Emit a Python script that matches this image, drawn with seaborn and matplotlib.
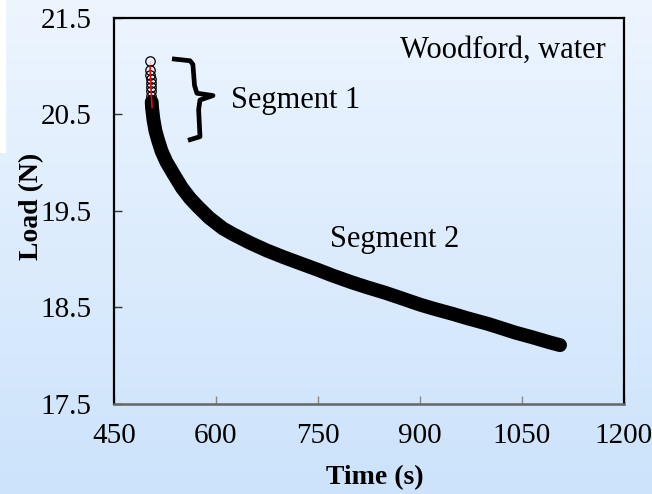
import numpy as np
import pandas as pd
import matplotlib
matplotlib.use("Agg")
import matplotlib.pyplot as plt
import seaborn as sns

# ---- data ----
seg1_time = [503, 503, 503.5, 504, 504, 504.5, 505, 505, 505.5, 506]
seg1_load = [21.05, 20.96, 20.91, 20.87, 20.83, 20.78, 20.74, 20.69, 20.63, 20.57]

curve_time = [505.5, 506, 508, 511, 515, 520, 527, 537, 550, 562, 574, 590, 610,
              625, 650, 675, 700, 723, 750, 772, 800, 822, 850, 871, 900, 919,
              950, 969, 1000, 1018, 1040, 1066, 1090, 1106]
curve_load = [20.63, 20.57, 20.45, 20.33, 20.23, 20.12, 20.01, 19.89, 19.74, 19.63,
              19.54, 19.43, 19.32, 19.26, 19.17, 19.09, 19.02, 18.96, 18.89, 18.83,
              18.76, 18.71, 18.65, 18.60, 18.53, 18.49, 18.43, 18.39, 18.33, 18.29,
              18.24, 18.19, 18.14, 18.11]

x_ticks = [450, 600, 750, 900, 1050, 1200]
y_ticks = [17.5, 18.5, 19.5, 20.5, 21.5]

# brace annotation (data coords)
brace_t = [535.3, 561.8, 566.0, 568.5, 572.0, 595.6, 576.5, 574.5, 576.5, 558.8]
brace_l = [21.077, 21.057, 21.02, 20.80, 20.72, 20.696, 20.65, 20.55, 20.27, 20.232]

sns.set_theme(style="white")
plt.rcParams['font.family'] = ['Liberation Serif', 'DejaVu Serif']
plt.rcParams['text.color'] = 'black'
plt.rcParams['axes.labelcolor'] = 'black'

fig = plt.figure(figsize=(6.52, 4.94), dpi=100)

# gradient background
bg = fig.add_axes([0, 0, 1, 1], zorder=-10)
top = np.array([237, 245, 255]) / 255.0
bot = np.array([204, 227, 251]) / 255.0
grad = np.linspace(0, 1, 256)[:, None, None]
img = top[None, None, :] * (1 - grad) + bot[None, None, :] * grad
bg.imshow(img, aspect='auto', extent=[0, 1, 0, 1])
bg.add_patch(plt.Rectangle((0, 0.692), 0.008, 0.31, color='white', transform=bg.transAxes))
bg.set_axis_off()

ax = fig.add_axes([0.1748, 0.1822, 0.7822, 0.7814])
ax.patch.set_alpha(0)

df_curve = pd.DataFrame({"Time": curve_time, "Load": curve_load})
df_seg1 = pd.DataFrame({"Time": seg1_time, "Load": seg1_load})

sns.lineplot(data=df_curve, x="Time", y="Load", ax=ax, color='black', lw=10,
             sort=False, zorder=2)
ax.lines[-1].set_solid_capstyle('round')
ax.lines[-1].set_solid_joinstyle('round')
sns.lineplot(data=df_seg1, x="Time", y="Load", ax=ax, color='red', lw=1.2,
             sort=False, zorder=4)
ax.plot(seg1_time, seg1_load, linestyle='none', marker='o', ms=6.8,
        mfc='none', mec='black', mew=0.9, zorder=3)

ax.plot(brace_t, brace_l, color='black', lw=3.4, solid_joinstyle='round',
        solid_capstyle='butt', zorder=3)

ax.set_xlim(450, 1200)
ax.set_ylim(17.5, 21.5)
ax.set_xticks(x_ticks)
ax.set_yticks(y_ticks)
ax.set_xticklabels([str(v) for v in x_ticks])
ax.set_yticklabels([f"{v:.1f}" for v in y_ticks])
ax.tick_params(axis='x', direction='in', length=6, width=1, color='#888888',
               labelsize=21, pad=14, labelcolor='black', bottom=True)
ax.tick_params(axis='y', direction='in', length=6, width=1, color='#333333',
               labelsize=21, pad=16, labelcolor='black', left=True)

for s in ['left', 'top', 'right']:
    ax.spines[s].set_color('black')
    ax.spines[s].set_linewidth(1.6)
ax.spines['bottom'].set_color('#666666')
ax.spines['bottom'].set_linewidth(1.8)

ax.set_xlabel("Time (s)", fontsize=20, fontweight='bold')
ax.set_ylabel("Load (N)", fontsize=20, fontweight='bold')
ax.xaxis.set_label_coords(0.512, -0.158)
ax.yaxis.set_label_coords(-0.136, 0.513)

ax.text(1173, 21.16, "Woodford, water", ha='right', va='center', fontsize=22)
ax.text(622, 20.64, "Segment 1", ha='left', va='center', fontsize=22)
ax.text(767, 19.20, "Segment 2", ha='left', va='center', fontsize=22)

fig.savefig("out.png", dpi=100)
